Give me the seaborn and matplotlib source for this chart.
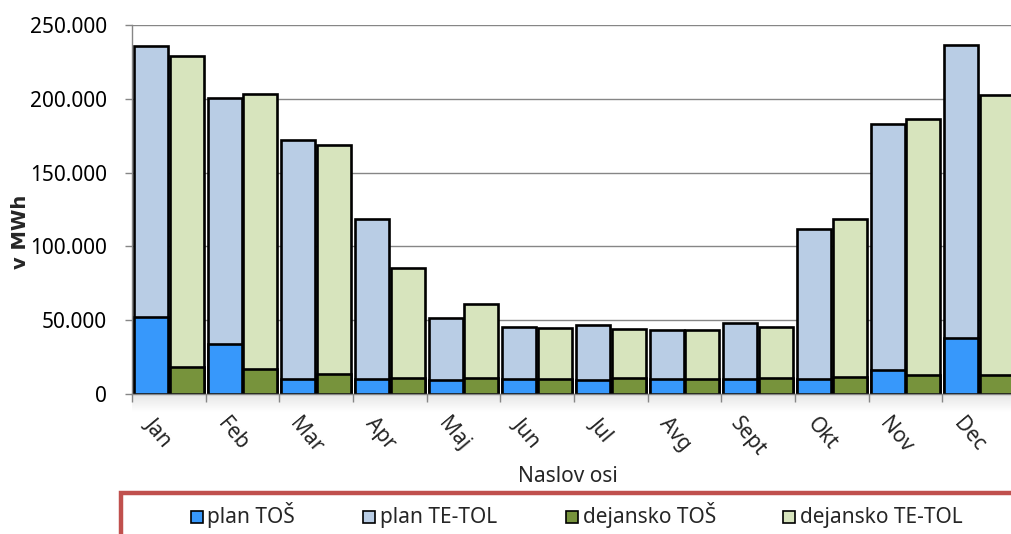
import numpy as np
import pandas as pd
import matplotlib
matplotlib.use("Agg")
import matplotlib.pyplot as plt
import matplotlib.transforms as mtransforms
from matplotlib.patches import Rectangle
import seaborn as sns

# ---------------- data ----------------
months = ["Jan", "Feb", "Mar", "Apr", "Maj", "Jun", "Jul", "Avg", "Sept", "Okt", "Nov", "Dec"]
plan_tos = [52400, 33900, 10400, 10200, 9700, 10200, 9500, 9900, 9900, 9900, 16300, 37900]
plan_tetol = [183600, 166600, 161600, 108600, 42000, 35400, 37000, 33600, 38400, 101700, 166700, 198400]
dej_tos = [18500, 16700, 13800, 11000, 10800, 10200, 10800, 9900, 10800, 11700, 12600, 12600]
dej_tetol = [210500, 186300, 154700, 74400, 50200, 34300, 33000, 33500, 34800, 106900, 173500, 189800]
series_labels = ["plan TOŠ", "plan TE-TOL", "dejansko TOŠ", "dejansko TE-TOL"]
y_ticks = [0, 50000, 100000, 150000, 200000, 250000]

c_plan_tos = "#3798FB"
c_plan_tetol = "#B9CDE5"
c_dej_tos = "#77933C"
c_dej_tetol = "#D7E4BD"
c_legend_border = "#C0504D"
grey = "#868686"

sns.set_theme(style="white")
plt.rcParams["font.family"] = ["Noto Sans", "DejaVu Sans"]

W, H = 1011, 534
fig = plt.figure(figsize=(W / 100, H / 100), dpi=100)
fig.patch.set_facecolor("white")

def fx(px):
    return px / W

def fy(py):
    return 1 - py / H

# subtle shadow below the x axis
sh = fig.add_axes([fx(132), fy(412), fx(1016 - 132), 18 / H])
grad = np.linspace(0.90, 1.0, 50).reshape(-1, 1)
sh.imshow(np.dstack([grad, grad, grad]), aspect="auto", extent=[0, 1, 0, 1])
sh.set_axis_off()

ax = fig.add_axes([fx(132), fy(394), fx(1016 - 132), (394 - 25) / H])

plan_total = [a + b for a, b in zip(plan_tos, plan_tetol)]
dej_total = [a + b for a, b in zip(dej_tos, dej_tetol)]

df_tot = pd.DataFrame({
    "month": months * 2,
    "type": ["plan"] * 12 + ["dejansko"] * 12,
    "value": plan_total + dej_total,
})
df_tos = pd.DataFrame({
    "month": months * 2,
    "type": ["plan"] * 12 + ["dejansko"] * 12,
    "value": plan_tos + dej_tos,
})

common = dict(x="month", y="value", hue="type", hue_order=["plan", "dejansko"],
              order=months, width=0.97, gap=0.05, edgecolor="black",
              linewidth=1.9, saturation=1, errorbar=None, legend=False, ax=ax)
sns.barplot(data=df_tot, palette=[c_plan_tetol, c_dej_tetol], **common)
sns.barplot(data=df_tos, palette=[c_plan_tos, c_dej_tos], **common)

ax.set_xlim(-0.5, 11.5)
ax.set_ylim(0, 250000)
ax.set_yticks(y_ticks)
ax.set_yticklabels([f"{v:,}".replace(",", ".") for v in y_ticks])
ax.yaxis.grid(True, color=grey, linewidth=1.0)
ax.xaxis.grid(False)
ax.set_axisbelow(True)

for s in ["top", "right"]:
    ax.spines[s].set_visible(False)
ax.spines["left"].set_color(grey)
ax.spines["bottom"].set_color(grey)
ax.spines["left"].set_linewidth(1.0)
ax.spines["bottom"].set_linewidth(1.0)

ax.tick_params(axis="y", left=True, length=5, width=1, color=grey, pad=13,
               labelsize=15, labelcolor="black")
ax.set_xticks(range(12))
ax.set_xticklabels(months, rotation=-50, ha="center", va="top", fontsize=15)
ax.set_xticks(np.arange(-0.5, 12, 1), minor=True)
ax.tick_params(axis="x", which="major", bottom=True, length=0, pad=14)
ax.tick_params(axis="x", which="minor", bottom=True, length=6, width=1, color=grey)
shift = mtransforms.ScaledTranslation(-10 / 100, 0, fig.dpi_scale_trans)
for lbl in ax.get_xticklabels():
    lbl.set_transform(lbl.get_transform() + shift)

ax.set_xlabel("")
ax.set_ylabel("")

fig.text(fx(21), fy(232), "v MWh", rotation=90, ha="center", va="center",
         fontsize=14, fontweight="bold", family=["DejaVu Sans"])
fig.text(fx(568), fy(477), "Naslov osi", ha="center", va="center", fontsize=15)

# legend box (clipped by the figure edge like the reference)
fig.patches.append(Rectangle((fx(120.5), fy(560)), fx(1040 - 120.5), (560 - 492.5) / H,
                             transform=fig.transFigure, fill=False,
                             edgecolor=c_legend_border, linewidth=3.2))
marker_x = [191, 363, 566, 783]
text_x = [207, 380, 583, 800]
colors = [c_plan_tos, c_plan_tetol, c_dej_tos, c_dej_tetol]
for mx, tx, col, lab in zip(marker_x, text_x, colors, series_labels):
    fig.patches.append(Rectangle((fx(mx), fy(522.5)), fx(12), 12 / H,
                                 transform=fig.transFigure, facecolor=col,
                                 edgecolor="black", linewidth=1.2))
    fig.text(fx(tx), fy(523), lab, ha="left", va="baseline", fontsize=15)

fig.savefig("out.png", dpi=100, facecolor="white")
